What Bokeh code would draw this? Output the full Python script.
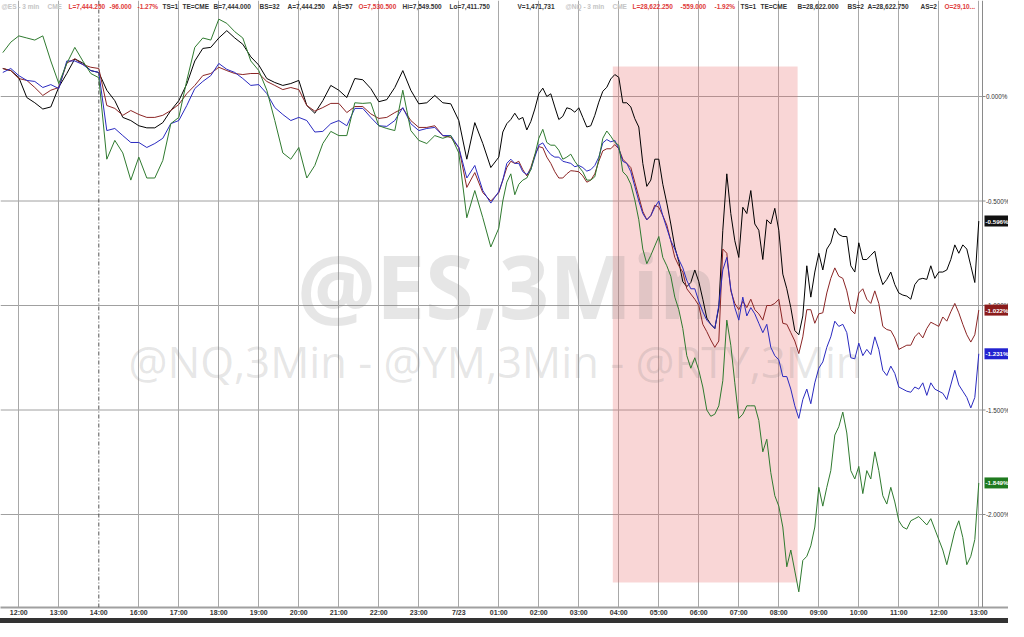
import numpy as np
from bokeh.plotting import figure
from bokeh.models import FixedTicker, Span, BoxAnnotation, Label, Range1d, Div
from bokeh.layouts import column
from bokeh.embed import file_html
from bokeh.resources import INLINE

# ---------------- data ----------------
hour_labels = ["12:00", "13:00", "14:00", "16:00", "17:00", "18:00", "19:00", "20:00",
               "21:00", "22:00", "23:00", "7/23", "01:00", "02:00", "03:00", "04:00",
               "05:00", "06:00", "07:00", "08:00", "09:00", "10:00", "11:00", "12:00", "13:00"]

# time axis in hour slots: 12-minute samples up to 00:48, then 6-minute samples
slot = np.concatenate([np.round(np.arange(-0.4, 11.8001, 0.2), 1),
                       np.round(np.arange(12.0, 24.0001, 0.1), 1)])

es = [0.134, 0.124, 0.091, -0.005, -0.03, -0.06, -0.05, 0.045, 0.11, 0.18,
      0.16, 0.124, 0.115, 0.03, -0.02, -0.10, -0.115, -0.14, -0.15, -0.15,
      -0.125, -0.067, -0.02, 0.06, 0.17, 0.23, 0.235, 0.28, 0.315, 0.28,
      0.25, 0.19, 0.15, 0.086, 0.067, 0.053, 0.062, 0.077, -0.043, -0.08,
      -0.02, 0.053, 0.03, -0.005, 0.086, 0.08, 0.038, -0.025, -0.015, 0.043,
      0.124, 0.03, -0.035, -0.03, 0.005, -0.03, -0.035, -0.115, -0.30, -0.125,
      -0.225, -0.34,
      -0.29, -0.17, -0.13, -0.11, -0.08, -0.11, -0.10, -0.16, -0.12, -0.06,
      0.013, 0.04, 0.0, 0.013, -0.05, -0.11, -0.095, -0.054, -0.06, -0.075,
      -0.054, -0.10, -0.146, -0.14, -0.09, -0.027, 0.025, 0.044, 0.084, 0.105,
      0.092, -0.03, -0.03, -0.05, -0.106, -0.146, -0.32, -0.43, -0.40, -0.30,
      -0.30, -0.42, -0.51, -0.61, -0.72, -0.79, -0.886, -0.91, -0.89, -0.83,
      -0.886, -0.97, -1.06, -1.09, -1.11, -1.01, -0.64, -0.37, -0.56, -0.69,
      -0.77, -0.53, -0.56, -0.45, -0.61, -0.64, -0.78, -0.59, -0.61, -0.535,
      -0.64, -0.85, -0.92, -1.01, -1.12, -1.14, -1.05, -0.81, -0.96, -0.84,
      -0.75, -0.83, -0.73, -0.70, -0.63, -0.66, -0.67, -0.67, -0.81, -0.84,
      -0.70, -0.78, -0.78, -0.76, -0.74, -0.84, -0.90, -0.875, -0.84, -0.90,
      -0.94, -0.95, -0.955, -0.97, -0.90, -0.875, -0.87, -0.875, -0.81, -0.87,
      -0.84, -0.84, -0.83, -0.78, -0.71, -0.75, -0.71, -0.73, -0.81, -0.89,
      -0.596]

ym = [0.134, 0.124, 0.086, 0.077, 0.043, 0.005, 0.03, 0.043, 0.16, 0.18,
      0.153, 0.14, 0.134, -0.043, -0.057, -0.09, -0.067, -0.086, -0.10, -0.10,
      -0.09, -0.067, -0.038, 0.014, 0.053, 0.10, 0.11, 0.14, 0.124, 0.11,
      0.105, 0.11, 0.11, 0.072, 0.053, 0.033, 0.043, 0.033, -0.043, -0.07,
      -0.053, -0.033, -0.033, -0.077, -0.048, -0.048, -0.083, -0.105, -0.10, -0.077,
      -0.057, -0.115, -0.148, -0.148, -0.14, -0.187, -0.196, -0.244, -0.435, -0.364,
      -0.46, -0.50,
      -0.46, -0.40, -0.34, -0.31, -0.32, -0.31, -0.35, -0.38, -0.34, -0.28,
      -0.24, -0.245, -0.29, -0.32, -0.36, -0.39, -0.39, -0.37, -0.355, -0.357,
      -0.36, -0.38, -0.41, -0.40, -0.37, -0.31, -0.26, -0.25, -0.25, -0.23,
      -0.25, -0.30, -0.32, -0.34, -0.41, -0.48, -0.55, -0.59, -0.57, -0.52,
      -0.53, -0.57, -0.615, -0.69, -0.77, -0.81, -0.84, -0.92, -0.945, -0.97,
      -1.0, -1.09, -1.125, -1.165, -1.20, -1.17, -0.73, -0.75, -0.93, -0.99,
      -1.02, -0.98, -1.01, -0.97, -1.02, -1.04, -1.07, -1.0, -1.0, -0.99,
      -0.97, -1.085, -1.09, -1.13, -1.17, -1.23, -1.15, -1.02, -1.02, -1.085,
      -1.04, -1.035, -0.94, -0.87, -0.82, -0.86, -0.87, -0.93, -1.02, -1.04,
      -0.94, -0.92, -0.97, -0.99, -0.93, -0.99, -1.10, -1.115, -1.12, -1.155,
      -1.21, -1.20, -1.19, -1.19, -1.15, -1.13, -1.155, -1.11, -1.08, -1.09,
      -1.10, -1.055, -1.075, -1.03, -0.99, -1.035, -1.09, -1.14, -1.175, -1.14,
      -1.022]

nq = [0.115, 0.134, 0.10, 0.077, 0.072, 0.043, 0.057, 0.038, 0.17, 0.17,
      0.153, 0.124, 0.115, -0.163, -0.153, -0.187, -0.22, -0.22, -0.244, -0.225,
      -0.20, -0.13, -0.115, -0.043, 0.038, 0.072, 0.10, 0.158, 0.13, 0.115,
      0.086, 0.053, 0.057, 0.014, -0.053, -0.086, -0.115, -0.10, -0.115, -0.17,
      -0.167, -0.13, -0.115, -0.14, -0.057, -0.057, -0.10, -0.14, -0.143, -0.115,
      -0.053, -0.13, -0.163, -0.153, -0.148, -0.187, -0.187, -0.244, -0.39, -0.33,
      -0.45, -0.51,
      -0.455, -0.40, -0.32, -0.30, -0.32, -0.32, -0.36, -0.373, -0.35, -0.29,
      -0.233, -0.222, -0.254, -0.278, -0.29, -0.29, -0.31, -0.315, -0.32, -0.336,
      -0.33, -0.34, -0.357, -0.35, -0.33, -0.29, -0.222, -0.206, -0.217, -0.21,
      -0.25, -0.31, -0.32, -0.36, -0.43, -0.50, -0.56, -0.59, -0.57, -0.53,
      -0.50, -0.57, -0.63, -0.69, -0.73, -0.78, -0.82, -0.88, -0.92, -0.92,
      -0.98, -1.03, -1.07, -1.09, -1.11, -1.0, -0.83, -0.77, -0.92, -1.01,
      -1.07, -0.96, -1.05, -1.01, -1.04, -1.085, -1.13, -1.09, -1.20, -1.24,
      -1.26, -1.34, -1.34, -1.40, -1.48, -1.54, -1.45, -1.40, -1.47, -1.37,
      -1.30, -1.27, -1.20, -1.15, -1.075, -1.10, -1.09, -1.13, -1.25, -1.255,
      -1.18, -1.24, -1.21, -1.235, -1.15, -1.21, -1.31, -1.335, -1.29, -1.325,
      -1.39, -1.40, -1.41, -1.415, -1.39, -1.40, -1.37, -1.43, -1.37, -1.40,
      -1.41, -1.42, -1.45, -1.38, -1.31, -1.38, -1.41, -1.44, -1.49, -1.44,
      -1.231]

rty = [0.21, 0.26, 0.29, 0.28, 0.27, 0.29, 0.17, 0.062, 0.158, 0.235,
       0.17, 0.11, 0.09, -0.30, -0.21, -0.27, -0.40, -0.29, -0.39, -0.39,
       -0.306, -0.13, -0.10, 0.077, 0.235, 0.28, 0.27, 0.37, 0.35, 0.31,
       0.28, 0.17, 0.124, 0.03, -0.115, -0.27, -0.30, -0.244, -0.39, -0.33,
       -0.225, -0.167, -0.187, -0.187, -0.03, -0.033, -0.03, -0.14, -0.153, -0.163,
       0.03, -0.163, -0.21, -0.225, -0.187, -0.20, -0.187, -0.27, -0.58, -0.45,
       -0.58, -0.72,
       -0.63, -0.50, -0.41, -0.37, -0.47, -0.42, -0.40, -0.39, -0.35, -0.28,
       -0.20, -0.157, -0.22, -0.233, -0.233, -0.257, -0.30, -0.29, -0.276, -0.31,
       -0.336, -0.36, -0.40, -0.40, -0.384, -0.30, -0.20, -0.165, -0.19, -0.22,
       -0.233, -0.36, -0.38, -0.42, -0.495, -0.59, -0.73, -0.80, -0.76, -0.715,
       -0.67, -0.77, -0.81, -0.86, -0.96, -1.02, -1.11, -1.24, -1.30, -1.25,
       -1.31, -1.39, -1.50, -1.53, -1.52, -1.48, -1.36, -1.07, -1.19, -1.37,
       -1.54, -1.52, -1.48, -1.48, -1.48, -1.55, -1.70, -1.64, -1.80, -1.91,
       -1.96, -2.06, -2.25, -2.17, -2.27, -2.37, -2.22, -2.20, -2.15, -2.06,
       -1.87, -1.96, -1.87, -1.79, -1.62, -1.58, -1.51, -1.61, -1.79, -1.83,
       -1.77, -1.90, -1.79, -1.83, -1.70, -1.79, -1.91, -1.95, -1.87, -1.94,
       -2.03, -2.06, -2.07, -2.03, -2.02, -2.01, -2.03, -2.05, -2.02, -2.07,
       -2.12, -2.17, -2.24, -2.16, -2.08, -2.03, -2.11, -2.24, -2.20, -2.12,
       -1.849]

y_ticks = [0.0, -0.5, -1.0, -1.5, -2.0]

header_es = [("@ES - 3 min", 1, "#c4c4c4"), ("CME", 47, "#c4c4c4"),
             ("L=7,444.250", 68, "#e03a3a"), ("-96.000", 109, "#e03a3a"),
             ("-1.27%", 137, "#e03a3a"), ("TS=1", 162, "#333333"),
             ("TE=CME", 182, "#333333"), ("B=7,444.000", 213, "#333333"),
             ("BS=32", 259, "#333333"), ("A=7,444.250", 287, "#333333"),
             ("AS=57", 332, "#333333"), ("O=7,530.500", 358, "#e03a3a"),
             ("Hi=7,549.500", 402, "#333333"), ("Lo=7,411.750", 449, "#333333"),
             ("V=1,471,731", 517, "#333333")]
header_nq = [("@NQ - 3 min", 565, "#c4c4c4"), ("CME", 612, "#c4c4c4"),
             ("L=28,622.250", 632, "#e03a3a"), ("-559.000", 680, "#e03a3a"),
             ("-1.92%", 714, "#e03a3a"), ("TS=1", 740, "#333333"),
             ("TE=CME", 760, "#333333"), ("B=28,622.000", 797, "#333333"),
             ("BS=2", 847, "#333333"), ("A=28,622.750", 867, "#333333"),
             ("AS=2", 920, "#333333"), ("O=29,10...", 944, "#e03a3a")]

# ---------------- layout constants (pixels) ----------------
W, FRAME_H, BOTTOM = 1008, 607, 9
PX_PER_H = 40.0
H0 = 18.3
PX_PER_PCT = 209.0
X0 = -H0 / PX_PER_H
X1 = X0 + W / PX_PER_H
Y1 = 96.0 / PX_PER_PCT
Y0 = Y1 - FRAME_H / PX_PER_PCT


def ref_x(px):
    return (px - H0) / PX_PER_H


def ref_y(py):
    return Y1 - py / PX_PER_PCT


BORDER = ref_x(982)

p = figure(frame_width=W, frame_height=FRAME_H,
           x_range=Range1d(X0, X1), y_range=Range1d(Y0, Y1),
           y_axis_location=None, toolbar_location=None, output_backend="svg",
           min_border_left=0, min_border_right=0, min_border_top=0, min_border_bottom=BOTTOM,
           outline_line_color=None, background_fill_color="white", border_fill_color="white")

# x axis
hours = list(range(len(hour_labels)))
p.xaxis.ticker = FixedTicker(ticks=hours)
p.xaxis.major_label_overrides = {h: lab for h, lab in zip(hours, hour_labels)}
p.xaxis.major_tick_out = 0
p.xaxis.major_tick_in = 0
p.xaxis.minor_tick_line_color = None
p.xaxis.major_label_standoff = 1
p.xaxis.axis_line_color = "#a0a0a0"
p.xaxis.axis_line_width = 2
p.xaxis.major_label_text_font = "Liberation Sans"
p.xaxis.major_label_text_font_style = "bold"
p.xaxis.major_label_text_font_size = "7px"
p.xaxis.major_label_text_color = "#333333"

# grid
p.xgrid.ticker = FixedTicker(ticks=[h for h in hours if h != 2])
p.xgrid.grid_line_color = "#a8a8a8"
p.xgrid.grid_line_width = 1
p.ygrid.visible = False
p.segment(x0=[X0] * len(y_ticks), x1=[BORDER] * len(y_ticks), y0=y_ticks, y1=y_ticks,
          line_color="#a0a0a0", line_width=1, level="underlay")
p.add_layout(Span(location=2, dimension="height", line_color="#555555",
                  line_width=1, line_dash="4 2 1 2"))

# right-hand price scale
p.add_layout(Span(location=BORDER, dimension="height", line_color="#8a8a8a", line_width=1))
p.segment(x0=[BORDER] * len(y_ticks), x1=[ref_x(985)] * len(y_ticks), y0=y_ticks, y1=y_ticks,
          line_color="#888888", line_width=1)
for t in y_ticks:
    p.add_layout(Label(x=ref_x(985.5), y=t, text=f"{t:.3f}%", text_align="left",
                       text_baseline="middle", text_font="Liberation Sans",
                       text_font_size="6.3px", text_color="#333333"))

# shaded window
p.add_layout(BoxAnnotation(left=14.85, right=19.47, top=0.1435, bottom=-2.325,
                           fill_color="#e86a6a", fill_alpha=0.28, line_color=None,
                           level="underlay"))

# watermarks
p.add_layout(Label(x=ref_x(506.5), y=ref_y(284), text="@ES,3Min", text_align="center",
                   text_baseline="middle", text_font="Open Sans", text_font_style="bold",
                   text_font_size="88px", text_color="#808080", text_alpha=0.2,
                   level="underlay"))
p.add_layout(Label(x=ref_x(495), y=ref_y(361), text="@NQ,3Min - @YM,3Min - @RTY,3Min",
                   text_align="center", text_baseline="middle", text_font="Open Sans",
                   text_font_size="43.5px", text_color="#808080", text_alpha=0.2,
                   level="underlay"))

# series
series = [(es, "#000000", "#111111"), (ym, "#8b2525", "#8b1c1c"),
          (nq, "#2a2ac0", "#2323d0"), (rty, "#2f7a2f", "#1f7a1f")]
for vals, col, _ in series:
    p.line(slot, vals, line_color=col, line_width=1.0)

for vals, _, bg in series:
    v = vals[-1]
    p.add_layout(Label(x=ref_x(984), y=v, text=f"{v:.3f}%", text_align="left",
                       text_baseline="middle", text_font="Liberation Sans",
                       text_font_style="bold", text_font_size="6.2px", text_color="white",
                       background_fill_color=bg, padding=dict(x=1, y=2)))

# header strip
for txt, xx, col in header_es + header_nq:
    p.add_layout(Label(x=ref_x(xx), y=ref_y(5.5), text=txt, text_align="left",
                       text_baseline="middle", text_font="Liberation Sans",
                       text_font_style="bold", text_font_size="6.5px", text_color=col))

bar = Div(text="", width=W, height=5, margin=(0, 0, 0, 0),
          styles={"background-color": "#333333"})
layout = column(p, bar, spacing=0)

open("out.html", "w").write(file_html(layout, INLINE))
